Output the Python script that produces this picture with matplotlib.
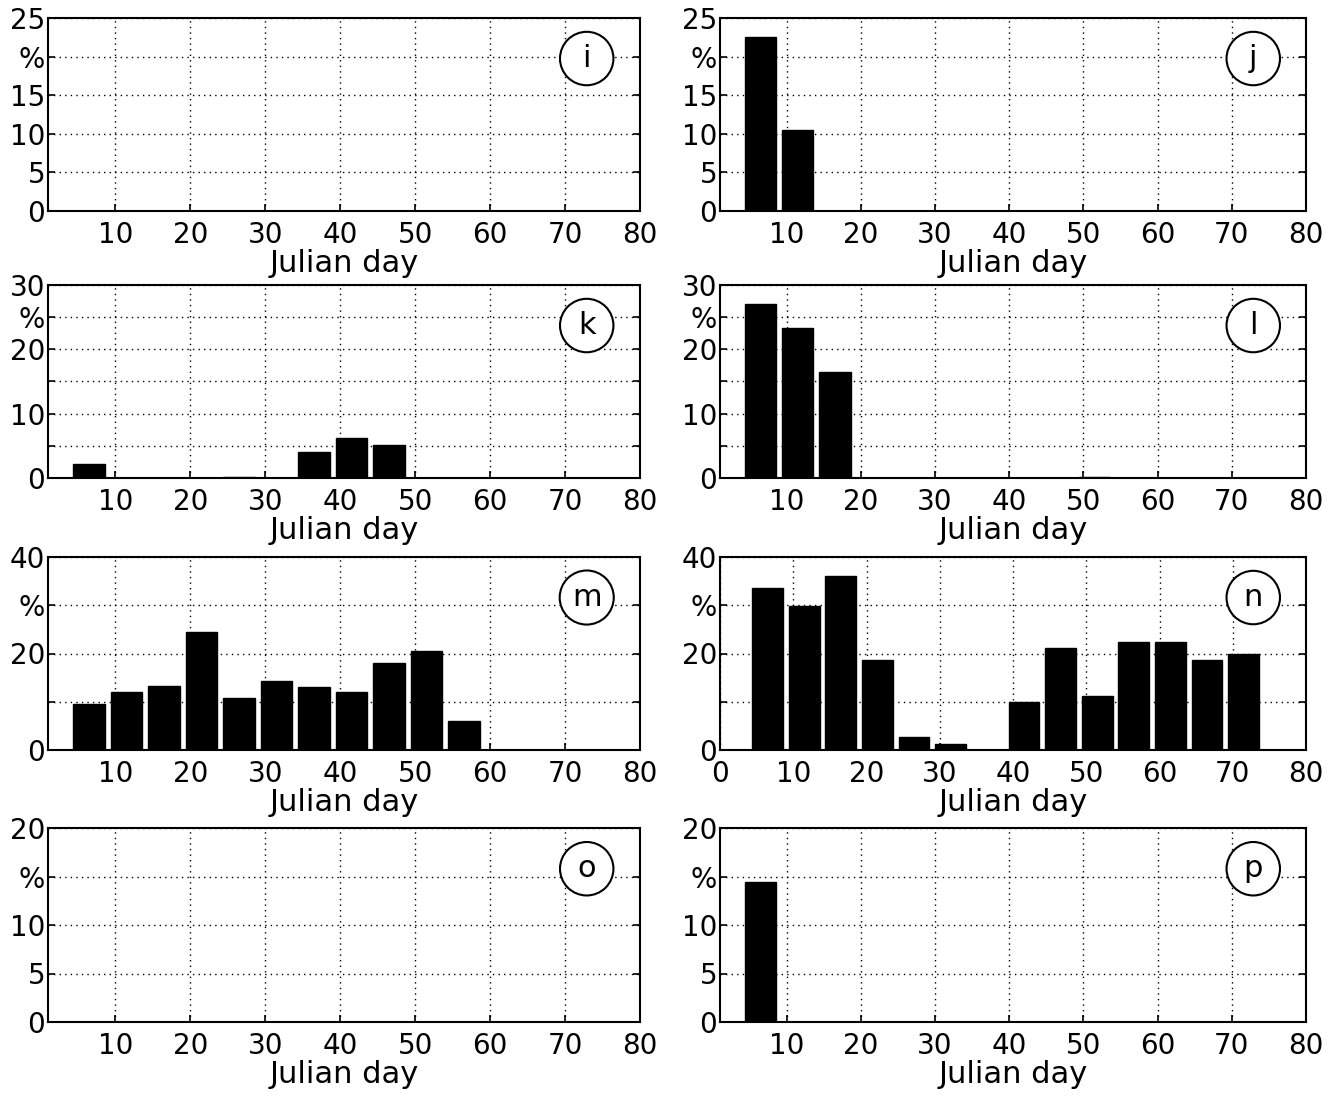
import matplotlib
matplotlib.use("Agg")
from matplotlib import pyplot as plt

# bin centres (5-day bins) shared by all panels
centres = [6.5, 11.5, 16.5, 21.5, 26.5, 31.5, 36.5, 41.5, 46.5, 51.5, 56.5, 61.5, 66.5, 71.5]

# percent per bin
vals_i = [0, 0, 0, 0, 0, 0, 0, 0, 0, 0, 0, 0, 0, 0]
vals_j = [22.6, 10.5, 0, 0, 0, 0, 0, 0, 0, 0, 0, 0, 0, 0]
vals_k = [2.2, 0, 0, 0, 0.1, 0, 4.0, 6.2, 5.1, 0, 0, 0, 0, 0]
vals_l = [27.1, 23.3, 16.5, 0, 0, 0, 0, 0, 0, 0.1, 0, 0, 0, 0]
vals_m = [9.6, 12.1, 13.2, 24.4, 10.8, 14.4, 13.1, 12.0, 18.0, 20.5, 6.0, 0, 0, 0]
vals_n = [33.5, 29.9, 36.1, 18.6, 2.6, 1.3, 0.1, 10.0, 21.2, 11.1, 22.3, 22.4, 18.7, 19.9]
vals_o = [0, 0, 0, 0, 0, 0, 0, 0, 0, 0, 0, 0, 0, 0]
vals_p = [14.4, 0, 0, 0, 0, 0, 0, 0, 0, 0, 0, 0, 0, 0]

letters = ["i", "j", "k", "l", "m", "n", "o", "p"]
series = [vals_i, vals_j, vals_k, vals_l, vals_m, vals_n, vals_o, vals_p]

# y ticks and labels per row ("%" sits at one of the ticks)
yticks_25 = [0, 5, 10, 15, 20, 25]
ylabels_25 = ["0", "5", "10", "15", "%", "25"]
yticks_30 = [0, 5, 10, 15, 20, 25, 30]
ylabels_30 = ["0", "", "10", "", "20", "%", "30"]
yticks_40 = [0, 10, 20, 30, 40]
ylabels_40 = ["0", "", "20", "%", "40"]
yticks_20 = [0, 5, 10, 15, 20]
ylabels_20 = ["0", "5", "10", "%", "20"]
row_ticks = [(yticks_25, ylabels_25), (yticks_30, ylabels_30),
             (yticks_40, ylabels_40), (yticks_20, ylabels_20)]

xticks = [10, 20, 30, 40, 50, 60, 70, 80]

plt.rcParams["font.family"] = "DejaVu Sans"
fig = plt.figure(figsize=(13.36, 11.01), dpi=100)

W, H = 1336, 1101
col_x = [(48, 640), (720, 1306)]
row_y = [(18, 211), (285, 478), (557, 750), (828, 1022)]

for idx, (letter, vals) in enumerate(zip(letters, series)):
    row, col = divmod(idx, 2)
    x0, x1 = col_x[col]
    y0, y1 = row_y[row]
    ax = fig.add_axes([x0 / W, 1 - y1 / H, (x1 - x0) / W, (y1 - y0) / H])
    ax.bar(centres, vals, width=4.2, color="black", edgecolor="black", zorder=3)

    ticks, labels = row_ticks[row]
    ax.set_ylim(ticks[0], ticks[-1])
    ax.set_yticks(ticks)
    ax.set_yticklabels(labels)
    if letter == "n":
        ax.set_xlim(0, 80)
        ax.set_xticks([0] + xticks)
    else:
        ax.set_xlim(1, 80)
        ax.set_xticks(xticks)

    ax.grid(True, linestyle=(0, (1, 3)), color="black", linewidth=1.0)
    ax.tick_params(direction="in", length=5, width=1.2, labelsize=20,
                   right=True, top=False)
    ax.tick_params(axis="x", pad=7)
    ax.tick_params(axis="y", pad=2)
    for s in ax.spines.values():
        s.set_linewidth(1.5)
    ax.set_xlabel("Julian day", fontsize=22, labelpad=0)

    ax.text(0.91, 0.79, letter, transform=ax.transAxes, fontsize=22,
            ha="center", va="center",
            bbox=dict(boxstyle="circle,pad=0.4", facecolor="white",
                      edgecolor="black", linewidth=1.5), zorder=5)

fig.savefig("out.png", dpi=100)
